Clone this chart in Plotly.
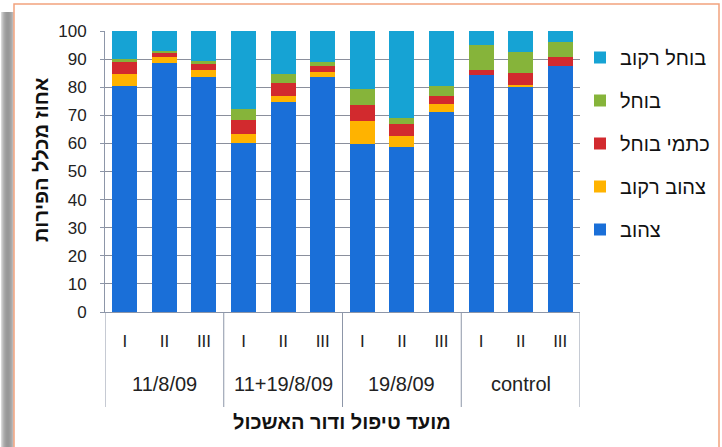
import plotly.graph_objects as go

# Treatment dates and cluster generations
group_names = ["11/8/09", "11+19/8/09", "19/8/09", "control"]
generations = ["I", "II", "III"] * 4
positions = list(range(len(generations)))

# Share of fruit (%) per category, bottom to top of each stack
yellow = [80.5, 88.5, 83.6, 60.0, 74.6, 83.7, 59.7, 58.6, 71.1, 84.4, 80.4, 87.5]
yellow_rot = [4.2, 2.4, 2.7, 3.2, 2.2, 1.8, 8.4, 3.9, 3.1, 0.0, 0.3, 0.0]
brown_spots = [4.3, 1.1, 2.1, 5.1, 4.6, 2.1, 5.4, 4.4, 2.6, 1.7, 4.3, 3.1]
brown = [1.0, 0.8, 1.1, 3.8, 3.3, 1.2, 5.9, 2.3, 3.6, 8.9, 7.5, 5.5]
brown_rot = [10.0, 7.2, 10.5, 27.9, 15.3, 11.2, 20.6, 30.8, 19.6, 5.0, 7.5, 3.9]

series = [
    ("צהוב", yellow, "#1a6fd8"),
    ("צהוב רקוב", yellow_rot, "#ffb300"),
    ("כתמי בוחל", brown_spots, "#d22a2e"),
    ("בוחל", brown, "#86b43a"),
    ("בוחל רקוב", brown_rot, "#16a3d4"),
]

FONT = "Liberation Sans, Arial, DejaVu Sans, sans-serif"
AXIS_GREY = "#8d96a8"

fig = go.Figure()
for i, (name, vals, color) in enumerate(series):
    fig.add_trace(go.Bar(
        x=positions,
        y=vals,
        name=name,
        marker=dict(color=color, line=dict(width=0)),
        legendgroup=f"g{i}",
        legendrank=len(series) - i,  # top of the stack listed first
    ))

W, H = 722, 447
L, R, T, B = 105, 142, 31, 135
pw, ph = W - L - R, H - T - B


def px(x):
    return (x - L) / pw


def py(y):
    return (H - B - y) / ph


shapes = []
# soft shadow along the left edge of the card
shadow = ["#d8d8d8", "#c4c4c4", "#b4b4b4", "#a8a8a8", "#a0a0a0", "#9a9a9a",
          "#989898", "#989898", "#9c9c9c", "#a2a2a2", "#aaaaaa", "#b8b8b8", "#d0d0d0"]
for k, c in enumerate(shadow):
    shapes.append(dict(type="rect", xref="paper", yref="paper",
                       x0=px(k + 1), x1=px(k + 2), y0=py(H), y1=py(12),
                       fillcolor=c, line=dict(width=0), layer="below"))
# card outline
shapes.append(dict(type="rect", xref="paper", yref="paper",
                   x0=px(14), x1=px(719), y0=py(H + 5), y1=py(4),
                   fillcolor="white", line=dict(color="#f2a37e", width=1.5),
                   layer="below"))

# group dividers below the category axis
n_per_group = 3
for g in range(len(group_names) + 1):
    xb = g * n_per_group - 0.5
    shapes.append(dict(type="line", xref="x", yref="paper",
                       x0=xb, x1=xb, y0=0, y1=py(407),
                       line=dict(color=AXIS_GREY, width=1)))

annotations = []
for g, gname in enumerate(group_names):
    xc = g * n_per_group + (n_per_group - 1) / 2
    annotations.append(dict(x=xc, xref="x", y=py(384), yref="paper",
                            text=gname, showarrow=False,
                            font=dict(size=20, family=FONT, color="#222222"),
                            xanchor="center", yanchor="middle"))

# axis titles
annotations.append(dict(x=px(342), xref="paper", y=py(422), yref="paper",
                        text="<b>מועד טיפול ודור האשכול</b>", showarrow=False,
                        font=dict(size=20, family=FONT, color="#111111"),
                        xanchor="center", yanchor="middle"))
annotations.append(dict(x=px(41), xref="paper", y=py(160), yref="paper",
                        text="<b>אחוז מכלל הפירות</b>", showarrow=False,
                        textangle=-90,
                        font=dict(size=20, family=FONT, color="#111111"),
                        xanchor="center", yanchor="middle"))

fig.update_layout(
    width=W, height=H,
    margin=dict(l=L, r=R, t=T, b=B, autoexpand=False),
    barmode="stack",
    bargap=0.37,
    paper_bgcolor="white",
    plot_bgcolor="white",
    font=dict(family=FONT, size=17, color="#222222"),
    shapes=shapes,
    annotations=annotations,
    showlegend=True,
    legend=dict(
        x=px(580), y=py(38), xanchor="left", yanchor="top",
        traceorder="grouped",
        font=dict(size=20, family=FONT, color="#111111"),
        tracegroupgap=14,
        itemwidth=30,
        bgcolor="rgba(0,0,0,0)",
    ),
    xaxis=dict(
        range=[-0.5, len(positions) - 0.5],
        tickmode="array", tickvals=positions, ticktext=generations,
        showline=True, linecolor=AXIS_GREY, linewidth=1,
        ticks="",
        ticklabelstandoff=14,
        tickfont=dict(size=17, family=FONT, color="#222222"),
        showgrid=False,
        zeroline=False,
    ),
    yaxis=dict(
        range=[0, 100], dtick=10,
        showline=True, linecolor=AXIS_GREY, linewidth=1,
        showgrid=True, gridcolor="#8a8f9c", gridwidth=1,
        ticks="outside", ticklen=4, tickcolor=AXIS_GREY,
        ticklabelstandoff=10,
        tickfont=dict(size=17, family=FONT, color="#222222"),
        zeroline=False,
    ),
)

fig.write_html("out.html")
